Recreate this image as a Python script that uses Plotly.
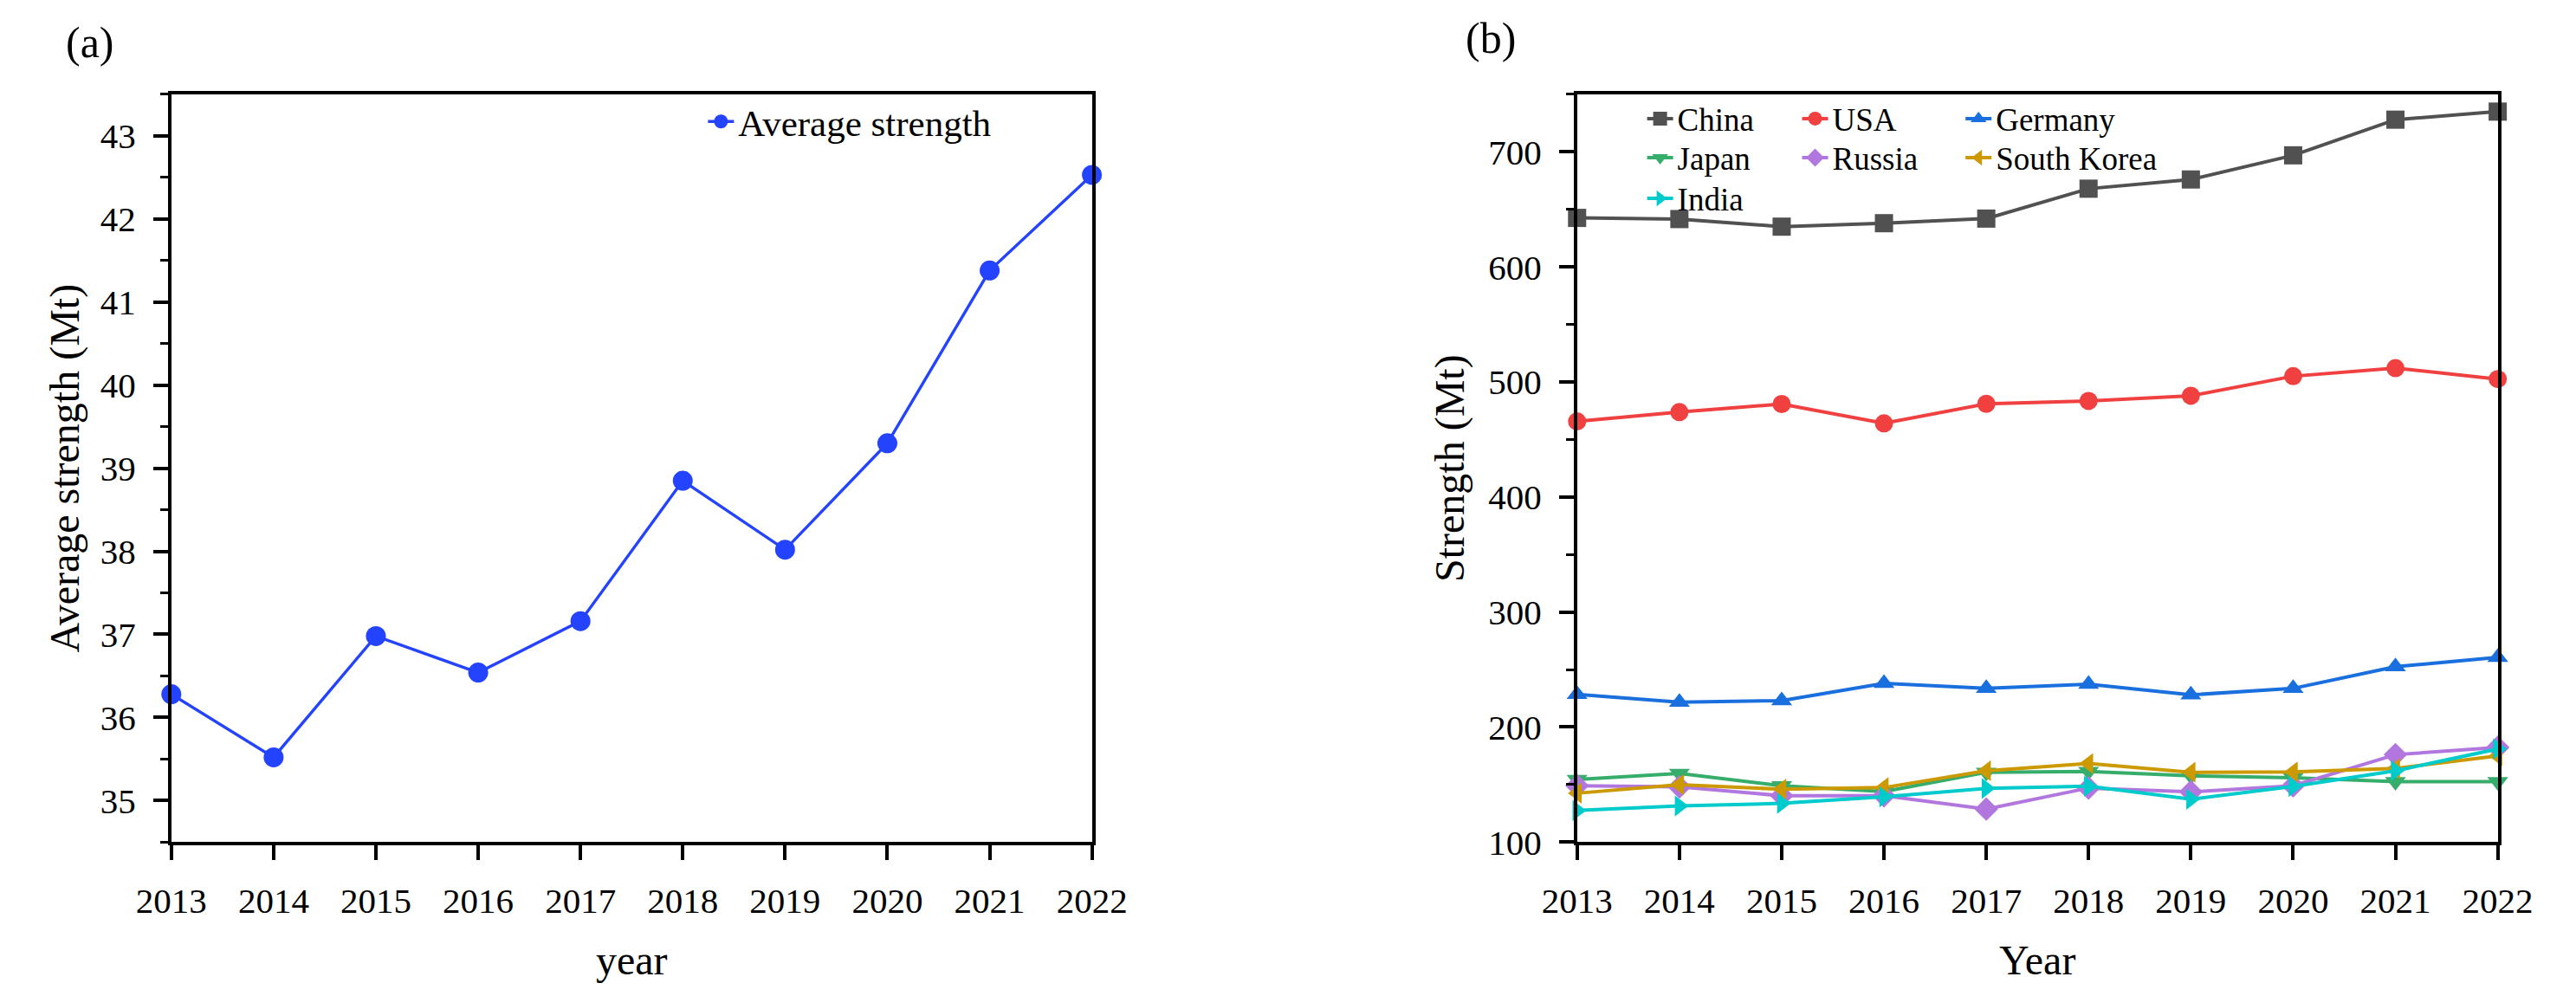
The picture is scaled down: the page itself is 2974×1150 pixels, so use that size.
import plotly.graph_objects as go

years = [2013, 2014, 2015, 2016, 2017, 2018, 2019, 2020, 2021, 2022]

avg_strength = [36.28, 35.52, 36.98, 36.54, 37.16, 38.85, 38.02, 39.30, 41.38, 42.53]

china = [642.6, 641.6, 635.0, 638.0, 642.0, 668.0, 676.0, 697.0, 728.0, 735.0]
usa = [465.7, 473.8, 480.8, 464.0, 481.0, 483.5, 488.0, 505.0, 512.0, 502.5]
germany = [228.5, 221.6, 223.0, 238.0, 233.6, 237.3, 228.0, 233.6, 252.5, 260.6]
japan = [154.5, 159.7, 149.0, 144.0, 160.7, 161.4, 157.7, 156.0, 152.6, 152.6]
russia = [149.0, 148.0, 140.3, 140.3, 128.7, 147.0, 143.7, 149.0, 176.0, 182.3]
south_korea = [142.5, 149.9, 146.0, 147.4, 162.0, 168.3, 160.7, 161.0, 164.0, 175.0]
india = [127.5, 131.4, 133.7, 139.3, 146.7, 148.6, 137.3, 148.4, 162.0, 181.0]

country_names = ["China", "USA", "Germany", "Japan", "Russia", "South Korea", "India"]
country_values = [china, usa, germany, japan, russia, south_korea, india]
country_colors = ["#515151", "#F14040", "#1A6FDF", "#37AD6B", "#B177DE", "#CC9900", "#00CBCC"]
country_symbols = ["square", "circle", "triangle-up", "triangle-down", "diamond",
                   "triangle-left", "triangle-right"]
# legend grid of panel (b): (column, row)
legend_cells = [(0, 0), (1, 0), (2, 0), (0, 1), (1, 1), (2, 1), (0, 2)]

FONT = "Liberation Serif"
W, H = 2974, 1150

fig = go.Figure()

fig.add_trace(go.Scatter(
    x=years, y=avg_strength, mode="lines+markers", name="Average strength",
    line=dict(color="#2343FF", width=3.4),
    marker=dict(symbol="circle", size=23, color="#2343FF"),
    cliponaxis=False, xaxis="x", yaxis="y", legend="legend", showlegend=True))

for i, (name, vals, col, sym) in enumerate(zip(country_names, country_values,
                                               country_colors, country_symbols)):
    fig.add_trace(go.Scatter(
        x=years, y=vals, mode="lines+markers", name=name,
        line=dict(color=col, width=4),
        marker=dict(symbol=sym, size=21, color=col),
        cliponaxis=False, xaxis="x2", yaxis="y2",
        legend="legend%d" % (i + 2), showlegend=True))

ydom = [1 - 984 / H, 1 - 103 / H]

axis_common = dict(
    showline=True, linecolor="black", linewidth=3.5, mirror=True,
    ticks="outside", ticklen=17, tickwidth=3.5, tickcolor="black",
    ticklabelstandoff=12,
    showgrid=False, zeroline=False,
    tickfont=dict(family=FONT, size=41, color="black"),
)

col_x = [1900, 2084, 2278]
row_y = [132, 178, 226]

legends = {}
for i, (c, r) in enumerate(legend_cells):
    legends["legend%d" % (i + 2)] = dict(
        x=col_x[c] / W, y=1 - row_y[r] / H, xanchor="left", yanchor="middle",
        bgcolor="rgba(0,0,0,0)", borderwidth=0,
        font=dict(family=FONT, size=37, color="black"))

fig.update_layout(
    width=W, height=H,
    margin=dict(l=0, r=0, t=0, b=0),
    paper_bgcolor="white", plot_bgcolor="white",
    font=dict(family=FONT, color="black"),
    showlegend=True,
    xaxis=dict(domain=[153 / W, 1246 / W], range=[2013, 2022], tickvals=years,
               title=dict(text="year", font=dict(family=FONT, size=48), standoff=30),
               **axis_common),
    yaxis=dict(domain=ydom, range=[34.5, 43.5], dtick=1, tick0=35,
               minor=dict(dtick=0.5, ticklen=9, tickwidth=3, tickcolor="black", ticks="outside"),
               title=dict(text="Average strength (Mt)", font=dict(family=FONT, size=48), standoff=10),
               **axis_common),
    xaxis2=dict(domain=[1822 / W, 2915 / W], range=[2013, 2022], tickvals=years, anchor="y2",
                title=dict(text="Year", font=dict(family=FONT, size=48), standoff=30),
                **axis_common),
    yaxis2=dict(domain=ydom, range=[100, 750], dtick=100, tick0=100, anchor="x2",
                minor=dict(dtick=50, ticklen=9, tickwidth=3, tickcolor="black", ticks="outside"),
                title=dict(text="Strength (Mt)", font=dict(family=FONT, size=48), standoff=14),
                **axis_common),
    legend=dict(x=785 / W, y=1 - 135 / H, xanchor="left", yanchor="middle",
                bgcolor="rgba(0,0,0,0)", borderwidth=0,
                font=dict(family=FONT, size=43, color="black")),
    annotations=[
        dict(text="(a)", x=26 / W, y=1 - 42 / H, xref="paper", yref="paper",
             xanchor="left", yanchor="middle", showarrow=False,
             font=dict(family=FONT, size=50, color="black")),
        dict(text="(b)", x=1688 / W, y=1 - 37 / H, xref="paper", yref="paper",
             xanchor="left", yanchor="middle", showarrow=False,
             font=dict(family=FONT, size=50, color="black")),
    ],
    **legends,
)

fig.write_html("out.html")
